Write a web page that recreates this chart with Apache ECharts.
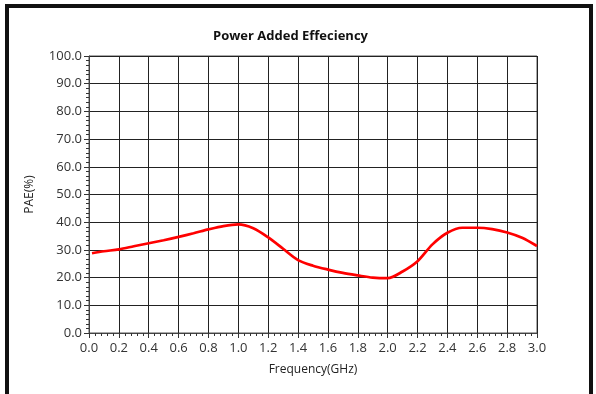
<!DOCTYPE html>
<html>
<head>
<meta charset="utf-8">
<script src="https://cdn.jsdelivr.net/npm/echarts@6/dist/echarts.min.js"></script>
<style>html,body{margin:0;padding:0;background:#fff;}#c{width:596px;height:394px;}</style>
</head>
<body>
<div id="c"></div>
<script>
var titleText = 'Power Added Effeciency';
var xName = 'Frequency(GHz)';
var yName = 'PAE(%)';
var freq = [0.02, 0.1, 0.2, 0.3, 0.4, 0.5, 0.6, 0.7, 0.8, 0.9, 1.0, 1.1, 1.2, 1.3, 1.4, 1.5, 1.6, 1.7, 1.8, 1.9, 2.0, 2.1, 2.2, 2.3, 2.4, 2.5, 2.6, 2.7, 2.8, 2.9, 3.0];
var pae  = [28.8, 29.5, 30.2, 31.3, 32.4, 33.5, 34.7, 36.0, 37.4, 38.6, 39.2, 37.8, 34.5, 30.4, 26.3, 24.3, 22.9, 21.7, 20.8, 20.0, 19.8, 22.2, 25.9, 32.0, 36.2, 38.0, 38.0, 37.5, 36.3, 34.4, 31.4];

var chart = echarts.init(document.getElementById('c'));
var font = '"Open Sans", "Noto Sans", sans-serif';
chart.setOption({
  animation: false,
  backgroundColor: '#fff',
  title: {
    text: titleText, left: 208, top: 25,
    textStyle: { fontFamily: font, fontSize: 13, fontWeight: 'bold', color: '#111' }
  },
  grid: { left: 89, right: 59, top: 56, bottom: 61, show: true, borderColor: '#555', borderWidth: 1 },
  xAxis: {
    type: 'value', min: 0, max: 3, interval: 0.2,
    name: xName, nameLocation: 'middle', nameGap: 31,
    nameTextStyle: { fontFamily: font, fontSize: 12, color: '#222' },
    axisLine: { show: true, onZero: false, lineStyle: { color: '#444', width: 1 } },
    axisTick: { show: true, length: 5, lineStyle: { color: '#333' } },
    minorTick: { show: true, splitNumber: 5, length: 3, lineStyle: { color: '#333' } },
    splitLine: { show: true, lineStyle: { color: '#222', width: 1 } },
    axisLabel: { fontFamily: font, fontSize: 13, color: '#333', margin: 9,
      formatter: function (v) { return v.toFixed(1); } }
  },
  yAxis: {
    type: 'value', min: 0, max: 100, interval: 10,
    name: yName, nameLocation: 'middle', nameGap: 53, nameRotate: 90,
    nameTextStyle: { fontFamily: font, fontSize: 12, color: '#222' },
    axisLine: { show: true, lineStyle: { color: '#444', width: 1 } },
    axisTick: { show: true, length: 5, lineStyle: { color: '#333' } },
    minorTick: { show: true, splitNumber: 6, length: 3, lineStyle: { color: '#333' } },
    splitLine: { show: true, lineStyle: { color: '#222', width: 1 } },
    axisLabel: { fontFamily: font, fontSize: 13, color: '#333', margin: 7,
      formatter: function (v) { return v.toFixed(1); } }
  },
  series: [{
    type: 'line',
    data: freq.map(function (f, i) { return [f, pae[i]]; }),
    smooth: 0.3,
    showSymbol: false,
    lineStyle: { color: '#ff0000', width: 2.7 },
    itemStyle: { color: '#ff0000' }
  }],
  graphic: [{
    type: 'polyline',
    shape: { points: [[7, 394], [7, 6], [591, 6], [591, 394]] },
    style: { stroke: '#111', lineWidth: 4, fill: null }
  }]
});
</script>
</body>
</html>
